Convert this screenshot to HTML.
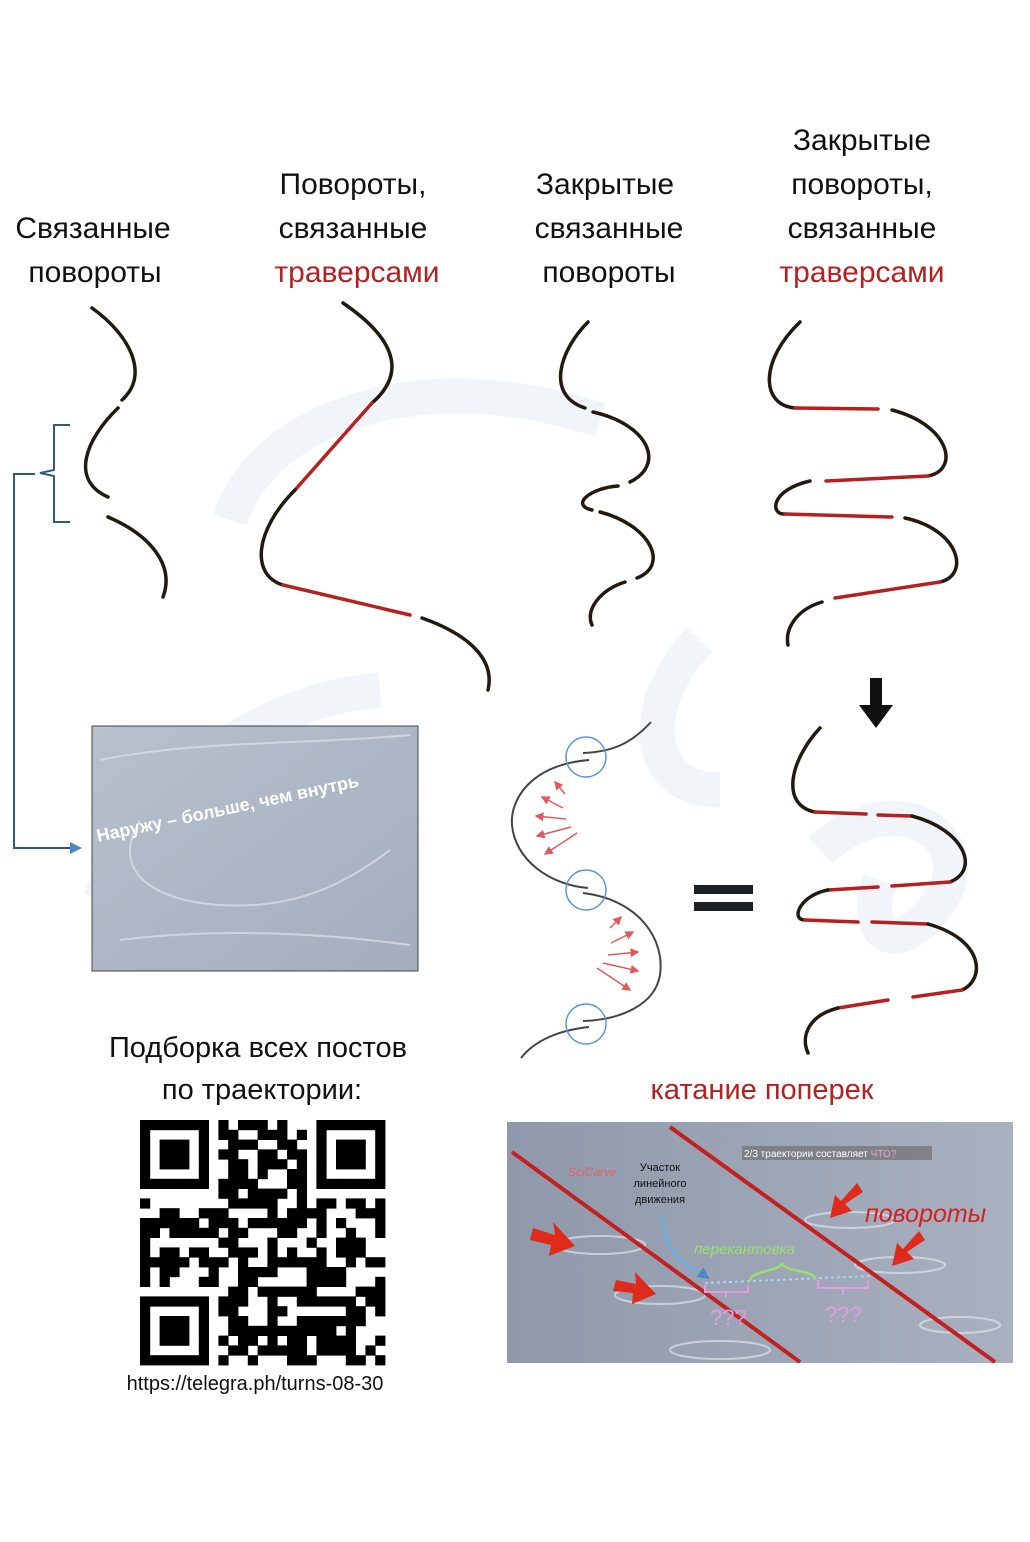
<!DOCTYPE html>
<html><head><meta charset="utf-8"><style>
body{margin:0;background:#fff}
svg{display:block}
text{font-family:"Liberation Sans","DejaVu Sans",sans-serif}
</style></head><body>
<svg id="root" width="1030" height="1542" viewBox="0 0 1030 1542" xmlns="http://www.w3.org/2000/svg">
<defs>
<marker id="ah" markerWidth="6" markerHeight="6" refX="5" refY="3" orient="auto"><path d="M0,0L6,3L0,6z" fill="#e05a5a"/></marker>
<marker id="bh" markerWidth="6" markerHeight="6" refX="5" refY="3" orient="auto"><path d="M0,0L6,3L0,6z" fill="#4a88c7"/></marker>
<linearGradient id="snow" x1="0" y1="0" x2="1" y2="1"><stop offset="0" stop-color="#b8c0cd"/><stop offset="1" stop-color="#a4adbd"/></linearGradient>
<linearGradient id="snow2" x1="0" y1="0" x2="1" y2="0"><stop offset="0" stop-color="#8f99ab"/><stop offset="1" stop-color="#a9b1c0"/></linearGradient>
</defs>
<g fill="none" stroke="#f1f4f9" stroke-width="35">
<path d="M600,420 C420,360 260,420 230,520"/>
<path d="M700,640 C640,700 640,790 720,790"/>
<path d="M100,900 C150,780 260,700 380,690"/>
<path d="M820,850 C900,780 980,840 940,900 C900,960 860,940 880,880"/>
</g>
<g font-size="30" fill="#111" text-anchor="middle">
<text x="93" y="238">Связанные</text>
<text x="95" y="282">повороты</text>
<text x="353" y="194">Повороты,</text>
<text x="353" y="238">связанные</text>
<text x="357" y="282" fill="#b52020">траверсами</text>
<text x="605" y="194">Закрытые</text>
<text x="609" y="238">связанные</text>
<text x="609" y="282">повороты</text>
<text x="862" y="150">Закрытые</text>
<text x="862" y="194">повороты,</text>
<text x="862" y="238">связанные</text>
<text x="862" y="282" fill="#b52020">траверсами</text>
</g>
<g fill="none" stroke="#231a0f" stroke-width="3.5" stroke-linecap="round">
<path d="M92,308 C130,335 150,375 122,400"/>
<path d="M118,408 C85,440 70,480 108,497"/>
<path d="M108,517 C150,535 175,565 163,597"/>
</g>
<g fill="none" stroke="#2f5a80" stroke-width="2">
<path d="M70,425 L54,425 L54,470 L40,473 L54,476 L54,522 L70,522"/>
<path d="M35,474 L14,474 L14,848 L80,848" marker-end="url(#bh)"/>
</g>
<g fill="none" stroke-width="3.5" stroke-linecap="round">
<path d="M343,303 C390,335 410,370 372,403" stroke="#231a0f"/>
<path d="M372,403 L295,490" stroke="#b52020"/>
<path d="M295,490 C255,530 250,575 283,585" stroke="#231a0f"/>
<path d="M283,585 L410,615" stroke="#b52020"/>
<path d="M422,618 C470,635 495,660 488,690" stroke="#231a0f"/>
</g>
<g fill="none" stroke="#231a0f" stroke-width="3.5" stroke-linecap="round">
<path d="M588,322 C560,350 545,395 585,408"/>
<path d="M593,412 C650,425 665,465 630,482"/>
<path d="M618,486 C590,488 570,505 592,510"/>
<path d="M600,512 C650,525 670,565 637,578"/>
<path d="M625,582 C600,590 585,610 592,625"/>
</g>
<g fill="none" stroke-width="3.5" stroke-linecap="round">
<path d="M800,322 C760,360 760,405 795,408" stroke="#231a0f"/>
<path d="M795,408 L878,409" stroke="#b52020"/>
<path d="M892,410 C950,425 960,470 928,476" stroke="#231a0f"/>
<path d="M928,476 L826,481" stroke="#b52020"/>
<path d="M810,481 C770,490 770,515 785,514" stroke="#231a0f"/>
<path d="M785,514 L892,517" stroke="#b52020"/>
<path d="M905,518 C960,530 970,575 940,582" stroke="#231a0f"/>
<path d="M940,582 L835,598" stroke="#b52020"/>
<path d="M822,602 C795,610 785,630 788,645" stroke="#231a0f"/>
</g>
<path d="M870,678 L882,678 L882,705 L893,705 L876,728 L859,705 L870,705 Z" fill="#111"/>
<g fill="none" stroke-width="3.5" stroke-linecap="round">
<path d="M820,728 C790,760 780,805 815,812" stroke="#231a0f"/>
<path d="M815,812 L866,814 M878,815 L912,816" stroke="#b52020"/>
<path d="M912,816 C965,830 980,870 950,882" stroke="#231a0f"/>
<path d="M950,882 L892,886 M878,887 L828,890" stroke="#b52020"/>
<path d="M828,890 C800,895 790,920 805,920" stroke="#231a0f"/>
<path d="M805,920 L858,922 M872,922 L928,924" stroke="#b52020"/>
<path d="M928,924 C985,940 985,980 962,990" stroke="#231a0f"/>
<path d="M962,990 L913,997 M888,1000 L838,1008" stroke="#b52020"/>
<path d="M838,1008 C810,1015 800,1035 808,1053" stroke="#231a0f"/>
</g>
<g fill="#1c1f24">
<rect x="694" y="885" width="59" height="9"/><rect x="694" y="902" width="59" height="9"/>
</g>
<g>
<g fill="none" stroke="#444" stroke-width="2">
<path d="M651,722 C630,745 610,752 583,753"/>
<path d="M589,760 C530,765 510,800 512,825 C515,860 550,885 588,888"/>
<path d="M583,893 C640,900 665,940 660,975 C655,1005 620,1020 583,1021"/>
<path d="M589,1027 C560,1030 535,1040 521,1058"/>
</g>
<g fill="none" stroke="#5b95d8" stroke-width="1.5">
<circle cx="586" cy="757" r="20"/><circle cx="586" cy="890" r="20"/><circle cx="586" cy="1024" r="20"/>
</g>
<g stroke="#e05a5a" stroke-width="1.5" marker-end="url(#ah)">
<line x1="565" y1="794" x2="555" y2="782"/><line x1="563" y1="808" x2="542" y2="797"/>
<line x1="566" y1="819" x2="536" y2="816"/><line x1="571" y1="827" x2="537" y2="836"/>
<line x1="577" y1="833" x2="545" y2="854"/>
<line x1="610" y1="928" x2="621" y2="917"/><line x1="611" y1="943" x2="633" y2="932"/>
<line x1="608" y1="955" x2="638" y2="952"/><line x1="603" y1="963" x2="638" y2="971"/>
<line x1="597" y1="968" x2="630" y2="990"/>
</g>
</g>
<g>
<rect x="92" y="726" width="326" height="245" fill="url(#snow)" stroke="#444" stroke-width="1"/>
<g fill="none" stroke="#d8dde6" stroke-width="2" opacity="0.8">
<path d="M140,820 C110,870 150,900 220,905 C300,910 350,880 390,850"/>
<path d="M100,760 C200,740 300,745 410,735"/>
<path d="M120,940 C200,930 300,930 410,945"/>
</g>
<text x="98" y="842" transform="rotate(-12 98 842)" font-size="18" font-weight="bold" fill="#fff">Наружу – больше, чем внутрь</text>
</g>
<g font-size="29" fill="#111" text-anchor="middle">
<text x="258" y="1057">Подборка всех постов</text>
<text x="262" y="1099">по траектории:</text>
</g>
<g id="qr"></g>
<text x="255" y="1390" font-size="20" fill="#111" text-anchor="middle">https://telegra.ph/turns-08-30</text>
<text x="762" y="1099" font-size="29" fill="#b52020" text-anchor="middle">катание поперек</text>
<g>
<rect x="507" y="1122" width="506" height="241" fill="url(#snow2)"/>
<g fill="none" stroke="#dfe3ea" stroke-width="2" opacity="0.7">
<ellipse cx="600" cy="1245" rx="45" ry="9"/><ellipse cx="660" cy="1295" rx="45" ry="9"/>
<ellipse cx="850" cy="1220" rx="45" ry="8"/><ellipse cx="900" cy="1265" rx="45" ry="8"/>
<ellipse cx="720" cy="1350" rx="50" ry="9"/><ellipse cx="960" cy="1325" rx="40" ry="8"/>
</g>
<line x1="512" y1="1152" x2="800" y2="1362" stroke="#c42020" stroke-width="4"/>
<line x1="670" y1="1127" x2="995" y2="1362" stroke="#c42020" stroke-width="4"/>
<rect x="742" y="1146" width="190" height="14" fill="#777" opacity="0.8"/>
<text x="744" y="1157" font-size="10" fill="#fff">2/3 траектории составляет <tspan fill="#e7a0e0">ЧТО?</tspan></text>
<text x="660" y="1171" font-size="11" fill="#111" text-anchor="middle">Участок</text>
<text x="660" y="1187" font-size="11" fill="#111" text-anchor="middle">линейного</text>
<text x="660" y="1203" font-size="11" fill="#111" text-anchor="middle">движения</text>
<text x="865" y="1222" font-size="25" font-style="italic" fill="#d42020">повороты</text>
<text x="694" y="1254" font-size="15" font-style="italic" fill="#9be06a">перекантовка</text>
<path d="M662,1215 C665,1260 690,1265 708,1278" fill="none" stroke="#5ab5ee" stroke-width="2" marker-end="url(#bh)"/>
<line x1="705" y1="1283" x2="870" y2="1276" stroke="#a8d3ee" stroke-width="2" stroke-dasharray="3,3"/>
<path d="M750,1281 C750,1270 780,1272 782,1263 C784,1272 815,1270 815,1279" fill="none" stroke="#9be06a" stroke-width="2.5"/>
<path d="M705,1285 L705,1292 L748,1292 L748,1285 M726,1292 L726,1298" fill="none" stroke="#e59be0" stroke-width="2"/>
<path d="M818,1280 L818,1288 L868,1288 L868,1280 M843,1288 L843,1295" fill="none" stroke="#e59be0" stroke-width="2"/>
<text x="710" y="1325" font-size="22" fill="#e59be0">???</text>
<text x="825" y="1322" font-size="22" fill="#e59be0">???</text>
<g fill="#e02a1c">
<path d="M533,1228 L555,1235 L553,1222 L575,1246 L549,1256 L551,1245 L530,1240 Z"/>
<path d="M616,1280 L636,1284 L635,1272 L656,1294 L632,1304 L633,1293 L613,1291 Z"/>
<path d="M863,1192 L845,1204 L852,1211 L830,1218 L835,1195 L841,1201 L857,1183 Z"/>
<path d="M925,1240 L907,1252 L914,1259 L892,1266 L897,1243 L903,1249 L919,1231 Z"/>
</g>
<text x="568" y="1176" font-size="12" font-style="italic" fill="#e86060">SciCarve</text>
</g>
</svg>
<script>
(function(){
var NS='http://www.w3.org/2000/svg';
var qr=document.getElementById('qr');
var N=25,s=9.8,ox=140,oy=1120,seed=7;
function rnd(){seed=(seed*9301+49297)%233280;return seed/233280;}
function fin(a){return a===0||a===6;}
for(var r=0;r<N;r++){for(var c=0;c<N;c++){
 var on=false;
 var inTL=r<7&&c<7, inTR=r<7&&c>=N-7, inBL=r>=N-7&&c<7;
 if(inTL||inTR||inBL){
  var rr=inBL?r-(N-7):r; var cc=inTR?c-(N-7):c;
  on=fin(rr)||fin(cc)||(rr>=2&&rr<=4&&cc>=2&&cc<=4);
 } else if((r<8&&(c===7||c===N-8))||(c<8&&(r===7||r===N-8))||(r===7&&c>=N-8)||(c===7&&r>=N-8)){
  on=false;
 } else { on=rnd()<0.5; }
 if(on){
  var el=document.createElementNS(NS,'rect');
  el.setAttribute('x',ox+c*s);el.setAttribute('y',oy+r*s);
  el.setAttribute('width',s+0.4);el.setAttribute('height',s+0.4);
  el.setAttribute('fill','#000');
  
  
  qr.appendChild(el);
 }
}}
})();
</script>
</body></html>
